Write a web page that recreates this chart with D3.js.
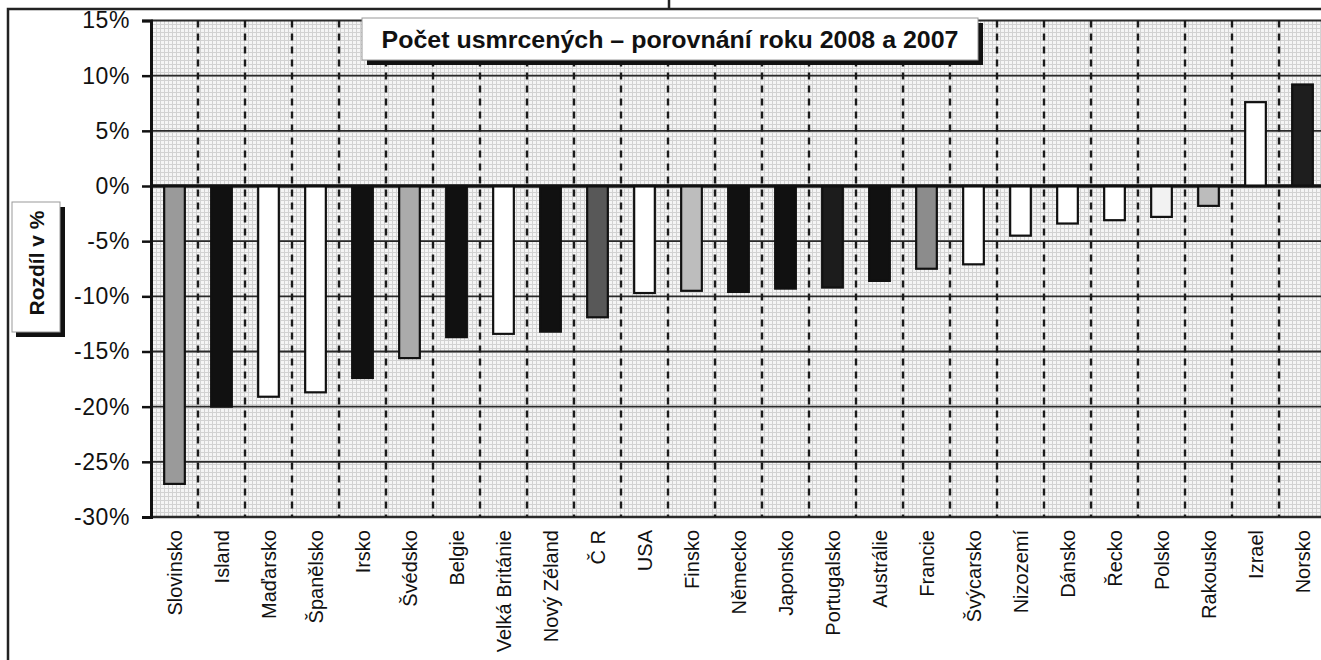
<!DOCTYPE html>
<html>
<head>
<meta charset="utf-8">
<script src="https://cdn.jsdelivr.net/npm/d3@7"></script>
<style>
    body { margin: 0; background: #fff; }
    #chart-area { width: 1321px; height: 660px; }
    text { font-family: "Liberation Sans", Arial, sans-serif; fill: #111; }
</style>
</head>
<body>
<div id="chart-area"></div>
<script>

// data
let countries = ["Slovinsko", "Island", "Maďarsko", "Španělsko", "Irsko", "Švédsko", "Belgie",
    "Velká Británie", "Nový Zéland", "Č R", "USA", "Finsko", "Německo", "Japonsko", "Portugalsko",
    "Austrálie", "Francie", "Švýcarsko", "Nizozemí", "Dánsko", "Řecko", "Polsko", "Rakousko",
    "Izrael", "Norsko"];

let change = [-27.0, -20.0, -19.1, -18.7, -17.4, -15.6, -13.7, -13.4, -13.2, -11.9, -9.7, -9.5,
    -9.6, -9.3, -9.2, -8.6, -7.5, -7.1, -4.5, -3.4, -3.1, -2.8, -1.8, 7.6, 9.2];

let yTicks = [15, 10, 5, 0, -5, -10, -15, -20, -25, -30];

let chartTitle = "Počet usmrcených – porovnání roku 2008 a 2007";
let yTitle = "Rozdíl v %";

// bar shading, one per country
let barFill = ["#9a9a9a", "#111", "#fff", "#fff", "#111", "#ababab", "#111", "#fff", "#111",
    "#585858", "#fff", "#bdbdbd", "#111", "#111", "#1c1c1c", "#111", "#8c8c8c", "#fff", "#fff",
    "#fff", "#fff", "#f2f2f2", "#bcbcbc", "#fff", "#1e1e1e"];


class BarChart {

    constructor(parentElement) {
        this._parentElement = parentElement;
        this.initVis();
    }

    initVis() {
        let vis = this;

        vis.left = 151;
        vis.right = 1326;
        vis.top = 20.5;
        vis.bottom = 517;

        vis.svg = d3.select("#" + vis._parentElement).append("svg")
            .attr("width", 1321)
            .attr("height", 660);

        // stippled paper texture for the plot
        let pat = vis.svg.append("defs").append("pattern")
            .attr("id", "paper")
            .attr("width", 4).attr("height", 4)
            .attr("patternUnits", "userSpaceOnUse");
        pat.append("rect").attr("width", 4).attr("height", 4).attr("fill", "#f5f5f5");
        pat.append("path").attr("d", "M0,0.5H4M0.5,0V4")
            .attr("stroke", "#d2d2d2").attr("stroke-width", 1);

        // outer frame
        vis.svg.append("path")
            .attr("d", "M8,660V9H1321M669,0V9")
            .attr("fill", "none")
            .attr("stroke", "#222")
            .attr("stroke-width", 2.5);

        vis.x = d3.scaleBand()
            .domain(countries)
            .range([vis.left, vis.right])
            .padding(0);

        vis.y = d3.scaleLinear()
            .domain([-30, 15])
            .range([vis.bottom, vis.top]);

        vis.svg.append("rect")
            .attr("x", vis.left)
            .attr("y", vis.top)
            .attr("width", vis.right - vis.left)
            .attr("height", vis.bottom - vis.top)
            .attr("fill", "url(#paper)");

        vis.updateVis();
    }

    updateVis() {
        let vis = this;

        // horizontal grid lines
        vis.svg.append("g").selectAll("line")
            .data(yTicks)
            .join("line")
            .attr("x1", vis.left).attr("x2", vis.right)
            .attr("y1", d => vis.y(d)).attr("y2", d => vis.y(d))
            .attr("stroke", d => d === 0 ? "#111" : "#2a2a2a")
            .attr("stroke-width", d => d === 0 ? 3 : (d === -30 ? 2.4 : 1.8));

        // dashed separators between countries
        vis.svg.append("g").selectAll("line")
            .data(countries.slice(1))
            .join("line")
            .attr("x1", d => vis.x(d)).attr("x2", d => vis.x(d))
            .attr("y1", vis.top).attr("y2", vis.bottom)
            .attr("stroke", "#1a1a1a")
            .attr("stroke-width", 2.4)
            .attr("stroke-dasharray", "7,6");

        // bars
        let barW = vis.x.bandwidth() * 0.44;
        vis.svg.append("g").selectAll("rect")
            .data(countries)
            .join("rect")
            .attr("x", d => vis.x(d) + (vis.x.bandwidth() - barW) / 2)
            .attr("y", (d, i) => vis.y(Math.max(0, change[i])))
            .attr("width", barW)
            .attr("height", (d, i) => Math.abs(vis.y(change[i]) - vis.y(0)))
            .attr("fill", (d, i) => barFill[i])
            .attr("stroke", "#111")
            .attr("stroke-width", 2.2);

        // redraw zero line over the bars
        vis.svg.append("line")
            .attr("x1", vis.left).attr("x2", vis.right)
            .attr("y1", vis.y(0)).attr("y2", vis.y(0))
            .attr("stroke", "#111")
            .attr("stroke-width", 3);

        // y axis
        let yAxis = d3.axisLeft(vis.y)
            .tickValues(yTicks)
            .tickSize(9)
            .tickPadding(12)
            .tickFormat(d => d + "%");

        vis.svg.append("g")
            .attr("class", "y-axis")
            .attr("transform", "translate(" + vis.left + ",0)")
            .call(yAxis)
            .call(g => g.select(".domain").attr("stroke", "#111").attr("stroke-width", 3))
            .call(g => g.selectAll(".tick line").attr("stroke", "#111").attr("stroke-width", 2.5))
            .call(g => g.selectAll(".tick text")
                .attr("font-family", "'Liberation Sans', Arial, sans-serif")
                .attr("font-size", 23)
                .attr("letter-spacing", 0.6)
                .attr("fill", "#111"));

        // country labels
        vis.svg.append("g").selectAll("text")
            .data(countries)
            .join("text")
            .attr("transform", d => "translate(" + (vis.x(d) + vis.x.bandwidth() / 2) + ",530) rotate(-90)")
            .attr("text-anchor", "end")
            .attr("dy", "0.36em")
            .attr("font-size", 20)
            .text(d => d);

        // title box with drop shadow
        vis.svg.append("rect")
            .attr("x", 367).attr("y", 23).attr("width", 616).attr("height", 42)
            .attr("fill", "#111");
        vis.svg.append("rect")
            .attr("x", 362).attr("y", 18).attr("width", 616).attr("height", 42)
            .attr("fill", "#fff")
            .attr("stroke", "#999")
            .attr("stroke-width", 1);
        vis.svg.append("text")
            .attr("x", 670).attr("y", 48)
            .attr("text-anchor", "middle")
            .attr("font-weight", "bold")
            .attr("font-size", 24)
            .attr("textLength", 577)
            .attr("lengthAdjust", "spacingAndGlyphs")
            .text(chartTitle);

        // y axis title box
        vis.svg.append("rect")
            .attr("x", 16).attr("y", 207).attr("width", 49).attr("height", 130)
            .attr("fill", "#111");
        vis.svg.append("rect")
            .attr("x", 12).attr("y", 202).attr("width", 48).attr("height", 130)
            .attr("fill", "#fff")
            .attr("stroke", "#999")
            .attr("stroke-width", 1);
        vis.svg.append("text")
            .attr("transform", "translate(44,263) rotate(-90)")
            .attr("text-anchor", "middle")
            .attr("font-weight", "bold")
            .attr("font-size", 21)
            .text(yTitle);
    }
}

let chart = new BarChart("chart-area");

</script>
</body>
</html>
